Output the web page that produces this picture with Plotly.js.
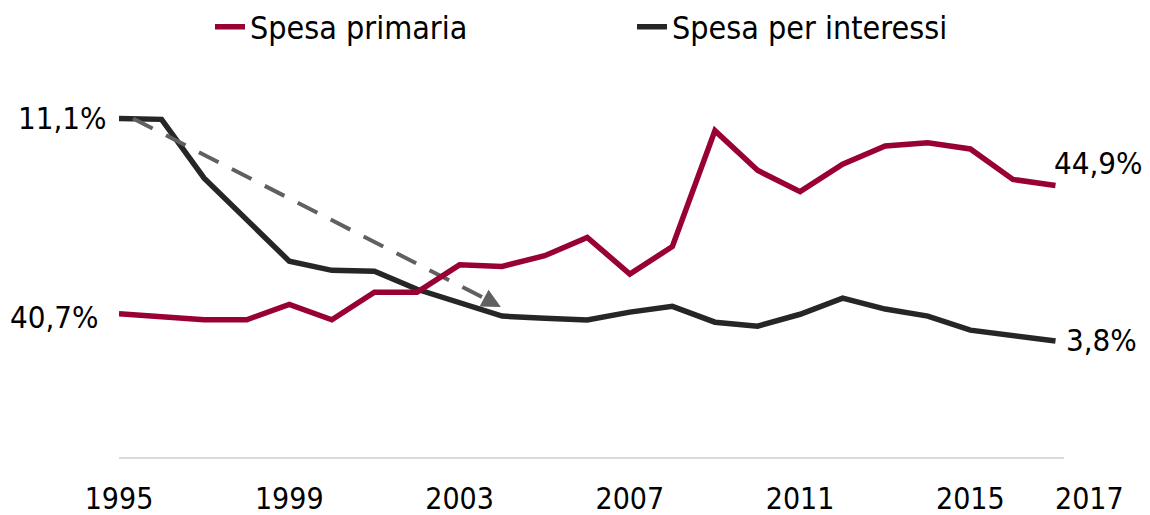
<!DOCTYPE html>
<html>
<head>
<meta charset="utf-8">
<script src="https://cdn.plot.ly/plotly-3.0.1.min.js"></script>
<style>html,body{margin:0;padding:0;background:#fff;}#chart{width:1150px;height:515px;}</style>
</head>
<body>
<div id="chart"></div>
<script>
// Data (% of GDP)
const years = [1995,1996,1997,1998,1999,2000,2001,2002,2003,2004,2005,2006,2007,2008,2009,2010,2011,2012,2013,2014,2015,2016,2017];
const spesaPrimaria = [40.7,40.6,40.5,40.5,41.0,40.5,41.4,41.4,42.3,42.25,42.6,43.2,42.0,42.9,46.7,45.4,44.7,45.6,46.2,46.3,46.1,45.1,44.9];
const spesaInteressi = [11.1,11.07,9.14,7.79,6.42,6.12,6.09,5.5,5.08,4.62,4.55,4.49,4.75,4.94,4.42,4.29,4.68,5.21,4.85,4.62,4.16,3.96,3.8];
const seriesNames = ["Spesa primaria", "Spesa per interessi"];
const tickYears = [1995,1999,2003,2007,2011,2015];
const lastYearLabel = "2017";
// trend arrow drawn over the interest series: dashed shaft start/end, and arrow tip
const arrowX = [1995.33, 2003.66];
const arrowY = [11.1, 5.15];
const arrowTip = [2003.97, 4.92];

const FONT = "'DejaVu Sans Condensed', 'DejaVu Sans', sans-serif";
const RED = "#990033";
const BLACK = "#262626";
const GREY = "#606060";

const fmt = v => v.toFixed(1).replace(".", ",") + "%";

const traces = [
  {x: years, y: spesaPrimaria, name: seriesNames[0], type: "scatter", mode: "lines",
   yaxis: "y2", line: {color: RED, width: 5.5}},
  {x: years, y: spesaInteressi, name: seriesNames[1], type: "scatter", mode: "lines",
   yaxis: "y", line: {color: BLACK, width: 5.5}},
  {x: arrowX, y: arrowY, type: "scatter", mode: "lines", yaxis: "y", showlegend: false,
   line: {color: GREY, width: 4, dash: "22px,15px"}}
];

const n = years.length - 1;
const annotations = [
  {x: years[0], y: spesaInteressi[0], yref: "y", text: fmt(spesaInteressi[0]), showarrow: false,
   xanchor: "right", yanchor: "middle", xshift: -10, font: {family: FONT, size: 31, color: "#000"}},
  {x: years[0], y: spesaPrimaria[0], yref: "y2", text: fmt(spesaPrimaria[0]), showarrow: false,
   xanchor: "right", yanchor: "middle", xshift: -18, yshift: -3, font: {family: FONT, size: 31, color: "#000"}},
  {x: years[n], y: spesaPrimaria[n], yref: "y2", text: fmt(spesaPrimaria[n]), showarrow: false,
   xanchor: "left", yanchor: "middle", xshift: -3, yshift: 23, font: {family: FONT, size: 31, color: "#000"}},
  {x: years[n], y: spesaInteressi[n], yref: "y", text: fmt(spesaInteressi[n]), showarrow: false,
   xanchor: "left", yanchor: "middle", xshift: 9, yshift: 1, font: {family: FONT, size: 31, color: "#000"}},
  {x: years[n], y: 0, yref: "paper", text: lastYearLabel, showarrow: false,
   xanchor: "center", yanchor: "middle", xshift: 34, yshift: -41, font: {family: FONT, size: 30, color: "#000"}},
  // arrow head only (short solid segment hidden under the head)
  {x: arrowTip[0], y: arrowTip[1], xref: "x", yref: "y", text: "", showarrow: true,
   ax: arrowX[1], ay: arrowY[1], axref: "x", ayref: "y",
   arrowhead: 2, arrowsize: 0.95, arrowwidth: 4, arrowcolor: GREY, standoff: 0}
];

const layout = {
  width: 1150, height: 515,
  margin: {l: 119, r: 86, t: 30, b: 58, pad: 0, autoexpand: false},
  paper_bgcolor: "#fff", plot_bgcolor: "#fff",
  showlegend: true,
  legend: {orientation: "h", x: 0.0963, xanchor: "left", y: 1.007, yanchor: "middle",
           font: {family: FONT, size: 32, color: "#000"}, entrywidth: 377, entrywidthmode: "pixels",
           bgcolor: "rgba(0,0,0,0)", traceorder: "normal"},
  xaxis: {range: [1995, 2017.2], tickvals: tickYears, ticktext: tickYears.map(String),
          showgrid: false, zeroline: false, showline: true, linecolor: "#d9d9d9", linewidth: 2,
          ticks: "", ticklabelstandoff: 14, tickfont: {family: FONT, size: 30, color: "#000"}, fixedrange: true},
  yaxis: {range: [0, 14], visible: false, showgrid: false, zeroline: false, fixedrange: true},
  yaxis2: {range: [36, 50], overlaying: "y", side: "right", visible: false, showgrid: false, zeroline: false, fixedrange: true},
  annotations: annotations
};

Plotly.newPlot("chart", traces, layout, {displayModeBar: false, staticPlot: true});
</script>
</body>
</html>
